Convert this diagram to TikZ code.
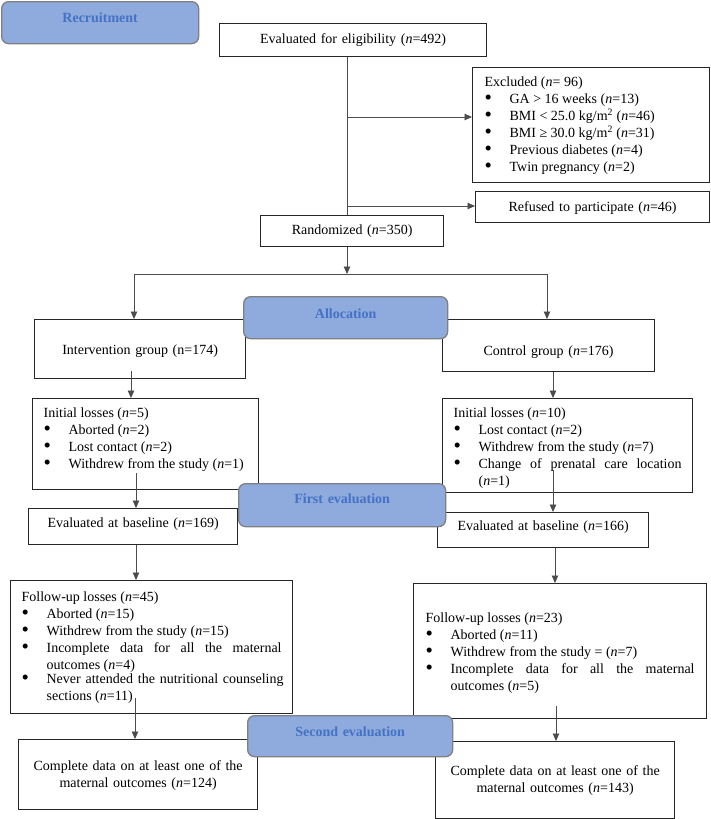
\documentclass[tikz,border=0pt]{standalone}
\usepackage{fontspec}
\setmainfont{Liberation Serif}
\usetikzlibrary{arrows.meta}
\definecolor{phase}{HTML}{8FAADC}
\definecolor{phasetext}{HTML}{4472C4}
\hyphenpenalty=10000
\exhyphenpenalty=10000
\newcommand{\bul}[2][\dimexpr\linewidth-25pt\relax]{\par\noindent
  \makebox[25pt][l]{\raisebox{-1.2pt}{\scalebox{1.5}{\textbullet}}}%
  \parbox[t]{#1}{\leftskip=0pt\relax\rightskip=0pt\relax\spaceskip=0pt\relax\xspaceskip=0pt\relax
    \parfillskip=0pt plus 1fil\relax\baselineskip=17pt\relax #2}}
\tikzset{
  base/.style={font=\fontsize{14pt}{17pt}\selectfont, inner ysep=0pt, anchor=north west},
  wbox/.style={base, draw=black!85, line width=1.2pt, rectangle},
  cbox/.style={wbox, align=center, inner xsep=0pt},
  lbox/.style={wbox, align=justify},
  rbox/.style={base, draw=black!50, line width=1.3pt, fill=phase, rounded corners=7pt,
    text=phasetext, font=\fontsize{14pt}{17pt}\selectfont\bfseries, align=center, inner xsep=0pt},
  conn/.style={draw=black!70, line width=0.9pt},
  arr/.style={conn, -{Triangle[length=7.5pt,width=6.5pt]}},
}
\begin{document}
\begin{tikzpicture}[x=1pt,y=-1pt]
\fill[white] (0,0) rectangle (710,819);
\useasboundingbox (0,0) rectangle (710,819);

% plain boxes
\node[cbox, text width=267pt, text height=20pt, text depth=13pt] (elig) at (219,23)
  {Evaluated for eligibility (\textit{n}=492)};
\node[lbox, inner xsep=12pt, text width=213pt, text height=19pt, text depth=96pt] (excl) at (472,67)
  {Excluded (\textit{n}= 96)%
   \bul[200pt]{GA > 16 weeks (\textit{n}=13)}%
   \bul[200pt]{BMI < 25.0 kg/m\textsuperscript{2} (\textit{n}=46)}%
   \bul[200pt]{BMI ≥ 30.0 kg/m\textsuperscript{2} (\textit{n}=31)}%
   \bul[200pt]{Previous diabetes (\textit{n}=4)}%
   \bul[200pt]{Twin pregnancy (\textit{n}=2)}};
\node[cbox, text width=234pt, text height=20pt, text depth=11pt] (refused) at (475,191)
  {Refused to participate (\textit{n}=46)};
\node[cbox, text width=183pt, text height=19pt, text depth=12pt] (rand) at (260,215)
  {Randomized (\textit{n}=350)};
\node[cbox, text width=211pt, text height=35pt, text depth=24pt] (interv) at (34,319)
  {Intervention group (n=174)};
\node[cbox, text width=212pt, text height=36pt, text depth=16pt] (control) at (442,319)
  {Control group (\textit{n}=176)};
\node[lbox, inner xsep=11pt, text width=204pt, text height=19pt, text depth=72pt] (illeft) at (32,398)
  {Initial losses (\textit{n}=5)%
   \bul[195pt]{Aborted (\textit{n}=2)}%
   \bul[195pt]{Lost contact (\textit{n}=2)}%
   \bul[195pt]{Withdrew from the study (\textit{n}=1)}};
\node[lbox, inner xsep=11pt, text width=228pt, text height=19pt, text depth=75pt] (ilright) at (442,398)
  {Initial losses (\textit{n}=10)%
   \bul[203pt]{Lost contact (\textit{n}=2)}%
   \bul[203pt]{Withdrew from the study (\textit{n}=7)}%
   \bul[203pt]{Change of prenatal care location\linebreak (\textit{n}=1)}};
\node[cbox, text width=209pt, text height=19pt, text depth=17pt] (ebleft) at (28,508)
  {Evaluated at baseline (\textit{n}=169)};
\node[cbox, text width=211pt, text height=18pt, text depth=17pt] (ebright) at (437,512)
  {Evaluated at baseline (\textit{n}=166)};
\node[lbox, inner xsep=11pt, text width=260pt, text height=21pt, text depth=112pt] (fuleft) at (10,580)
  {Follow-up losses (\textit{n}=45)%
   \bul[235pt]{Aborted (\textit{n}=15)}%
   \bul[235pt]{Withdrew from the study (\textit{n}=15)}%
   \bul[235pt]{Incomplete data for all the maternal\linebreak outcomes (\textit{n}=4)}%
   \bul[237pt]{Never attended the nutritional counseling\linebreak sections (\textit{n}=11)}};
\node[lbox, inner xsep=12pt, text width=269pt, text height=39pt, text depth=96pt] (furight) at (413,583)
  {Follow-up losses (\textit{n}=23)%
   \bul[244pt]{Aborted (\textit{n}=11)}%
   \bul[244pt]{Withdrew from the study = (\textit{n}=7)}%
   \bul[244pt]{Incomplete data for all the maternal\linebreak outcomes (\textit{n}=5)}};
\node[cbox, text width=239pt, text height=31pt, text depth=39pt] (compleft) at (18,739)
  {Complete data on at least one of the\\maternal outcomes (\textit{n}=124)};
\node[cbox, text width=239pt, text height=34pt, text depth=43pt] (compright) at (435,741)
  {Complete data on at least one of the\\maternal outcomes (\textit{n}=143)};

% connectors
\coordinate (vx) at (347,0);
\draw[conn] (vx |- elig.south) -- (vx |- rand.north);
\coordinate (b1) at (347,117);
\draw[arr] (b1) -- (b1 -| excl.west);
\coordinate (b2) at (347,206);
\draw[arr] (b2) -- (b2 -| refused.west);
\coordinate (j) at (347,274);
\draw[arr] (j |- rand.south) -- (j);
\coordinate (jl) at (134,274);
\coordinate (jr) at (547,274);
\draw[conn] (jl) -- (jr);
\draw[arr] (jl) -- (jl |- interv.north);
\draw[arr] (jr) -- (jr |- control.north);
\coordinate (a1) at (131,371);
\draw[arr] (a1) -- (a1 |- illeft.north);
\coordinate (a2) at (553,0);
\draw[arr] (a2 |- control.south) -- (a2 |- ilright.north);
\coordinate (a3) at (136,473);
\draw[arr] (a3) -- (a3 |- ebleft.north);
\coordinate (a4) at (553,470);
\draw[arr] (a4) -- (a4 |- ebright.north);
\coordinate (a5) at (136,0);
\draw[arr] (a5 |- ebleft.south) -- (a5 |- fuleft.north);
\coordinate (a6) at (555,0);
\draw[arr] (a6 |- ebright.south) -- (a6 |- furight.north);
\coordinate (a7) at (135,698);
\draw[arr] (a7) -- (a7 |- compleft.north);
\coordinate (a8) at (556,706);
\draw[arr] (a8) -- (a8 |- compright.north);

% phase labels
\node[rbox, text width=197pt, text height=21pt, text depth=21pt] (recr) at (1,1) {Recruitment};
\node[rbox, text width=204pt, text height=22pt, text depth=20pt] (alloc) at (243,296) {Allocation};
\node[rbox, text width=207pt, text height=20pt, text depth=23pt] (firsteval) at (238,483) {First evaluation};
\node[rbox, text width=205pt, text height=21pt, text depth=20pt] (secondeval) at (247,715) {Second evaluation};
\end{tikzpicture}
\end{document}
